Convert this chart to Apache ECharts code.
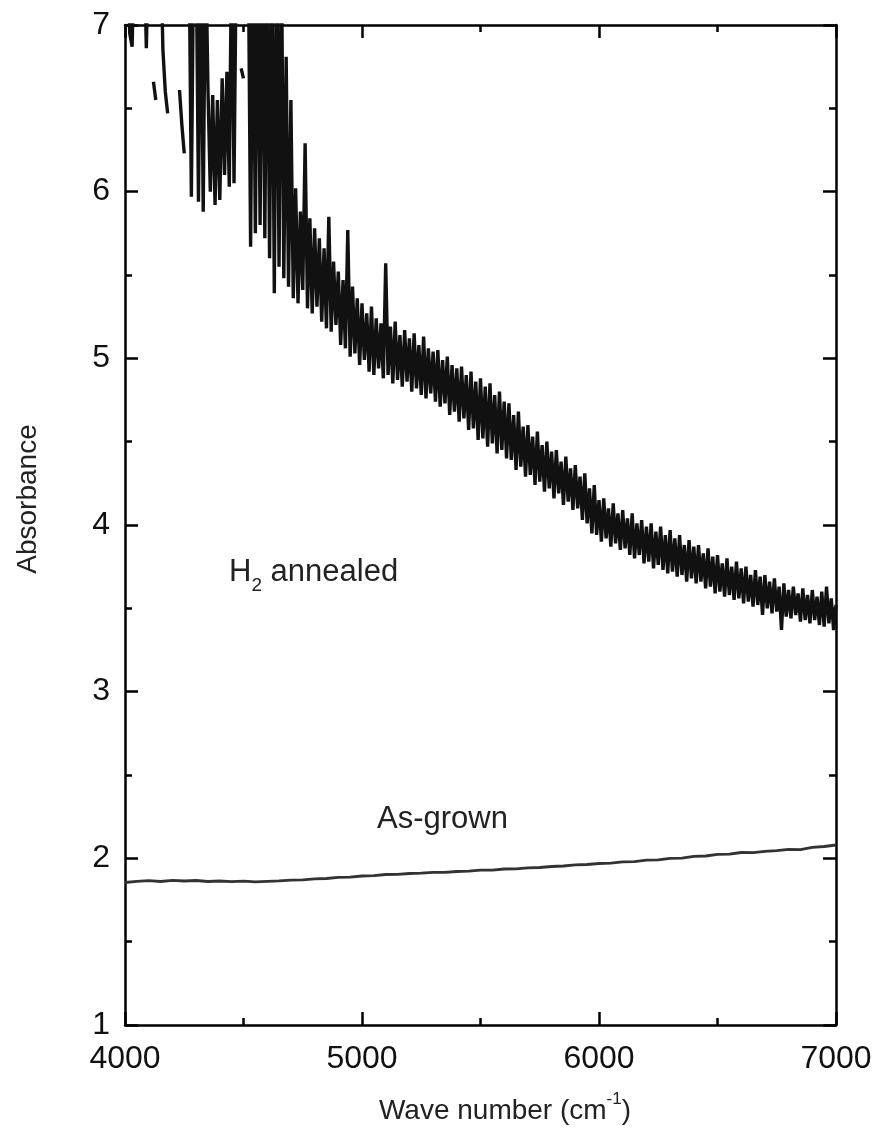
<!DOCTYPE html>
<html>
<head>
<meta charset="utf-8">
<script src="https://cdn.jsdelivr.net/npm/echarts@6/dist/echarts.min.js"></script>
<style>
  html, body { margin: 0; padding: 0; background: #fff; }
  #chart { width: 886px; height: 1135px; }
</style>
</head>
<body>
<div id="chart"></div>
<script>
// ---- Data ----
// H2 annealed spectrum: sampled every 10 cm^-1 from 4000 to 7000 cm^-1
// (values above 7 are off-scale, null = gap in the recorded trace)
const h2Start = 4000;
const h2Step = 10;
const h2Absorbance = [
  7.5, 7.5, 6.95, 6.87, 7.5, 7.5, 7.5, 7.5, 7.5, 6.86,
  7.5, null, 6.66, 6.55, null, 7.5, 6.85, 6.6, 6.47, null,
  null, null, null, 6.61, 6.4, 6.23, null, 7.5, 5.97, 7.5,
  7.5, 5.94, 7.5, 5.88, 7.5, 6.62, 6.0, 6.58, 5.92, 6.55,
  5.95, 6.68, 6.1, 6.72, 6.03, 7.5, 6.05, 7.5, null, 6.74,
  6.68, null, 7.5, 5.67, 7.5, 5.75, 7.5, 5.8, 7.5, 5.72,
  7.5, 5.6, 7.5, 5.39, 7.5, 5.55, 7.5, 5.48, 6.81, 5.43,
  6.55,
  5.36, 6.02, 5.33, 5.88, 5.41, 6.29, 5.30, 5.84, 5.27, 5.78,
  5.31, 5.72, 5.22, 5.66, 5.18, 5.85, 5.16, 5.58, 5.20, 5.52,
  5.08, 5.47, 5.06, 5.77, 5.01, 5.43, 5.03, 5.36, 4.96, 5.33,
  4.99, 5.27, 4.92, 5.31, 4.90, 5.24, 4.94, 5.21, 4.88, 5.57,
  4.90, 5.19, 4.85, 5.22, 4.87, 5.14, 4.83, 5.17, 4.86, 5.12,
  4.80, 5.15, 4.82, 5.08, 4.78, 5.13, 4.76, 5.06, 4.79, 5.04,
  4.74, 5.05, 4.71, 4.99, 4.73, 5.01, 4.66, 4.96, 4.68, 4.94,
  4.62, 4.95, 4.64, 4.90, 4.57, 4.92, 4.58, 4.86, 4.51, 4.88,
  4.52, 4.83, 4.47, 4.85, 4.49, 4.78, 4.43, 4.80, 4.45, 4.74,
  4.40, 4.73, 4.39, 4.66, 4.33, 4.68, 4.35, 4.59, 4.29, 4.60,
  4.30, 4.53, 4.24, 4.56, 4.26, 4.48, 4.20, 4.50, 4.22, 4.44,
  4.16, 4.45, 4.19, 4.38, 4.12, 4.41, 4.14, 4.34, 4.09, 4.36,
  4.10, 4.29, 4.03, 4.31, 4.01, 4.22, 3.95, 4.24, 3.94, 4.15,
  3.90, 4.16, 3.92, 4.10, 3.87, 4.13, 3.89, 4.07, 3.85, 4.09,
  3.86, 4.04, 3.82, 4.07, 3.80, 4.01, 3.82, 4.03, 3.77, 3.99,
  3.78, 4.01, 3.74, 3.96, 3.76, 3.99, 3.73, 3.94, 3.71, 3.97,
  3.72, 3.92, 3.69, 3.94, 3.70, 3.88, 3.66, 3.91, 3.68, 3.87,
  3.65, 3.88, 3.66, 3.83, 3.62, 3.86, 3.63, 3.81, 3.59, 3.82,
  3.60, 3.77, 3.57, 3.80, 3.58, 3.75, 3.55, 3.78, 3.56, 3.74,
  3.53, 3.75, 3.54, 3.70, 3.51, 3.73, 3.52, 3.69, 3.46, 3.70,
  3.50, 3.66, 3.47, 3.68, 3.48, 3.63, 3.37, 3.65, 3.45, 3.61,
  3.44, 3.63, 3.46, 3.59, 3.42, 3.62, 3.43, 3.58, 3.41, 3.61,
  3.43, 3.57, 3.40, 3.60, 3.39, 3.63, 3.41, 3.56, 3.37, 3.52
];

// As-grown spectrum: sampled every 50 cm^-1 from 4000 to 7000 cm^-1
const grownStart = 4000;
const grownStep = 50;
const grownAbsorbance = [
  1.855, 1.862, 1.866, 1.861, 1.868, 1.864, 1.867, 1.861, 1.864, 1.860,
  1.863, 1.859, 1.862, 1.865, 1.869, 1.871, 1.877, 1.879, 1.886, 1.887,
  1.894, 1.896, 1.903, 1.904, 1.909, 1.911, 1.916, 1.916, 1.921, 1.923,
  1.929, 1.929, 1.936, 1.937, 1.943, 1.945, 1.951, 1.954, 1.961, 1.963,
  1.969, 1.971, 1.979, 1.980, 1.989, 1.991, 2.000, 2.001, 2.012, 2.014,
  2.024, 2.025, 2.035, 2.034, 2.042, 2.046, 2.054, 2.052, 2.066, 2.071,
  2.080
];

// Axis ranges / ticks
const xMin = 4000, xMax = 7000, xInterval = 1000;
const yMin = 1, yMax = 7, yInterval = 1;

// Labels
const xTitle = ['Wave number (cm', '-1', ')'];
const yTitle = 'Absorbance';
const seriesNames = ['H2 annealed', 'As-grown'];

// ---- Build series data ----
const h2Data = h2Absorbance.map((v, i) => [h2Start + i * h2Step, v === null ? '-' : v]);
const grownData = grownAbsorbance.map((v, i) => [grownStart + i * grownStep, v]);

const FONT = '"Liberation Sans", Arial, Helvetica, sans-serif';
const axisLineStyle = { color: '#000', width: 2.5 };

function makeX(pos, showLabel) {
  return {
    type: 'value', position: pos, min: xMin, max: xMax, interval: xInterval,
    axisLine: { show: true, onZero: false, lineStyle: axisLineStyle },
    axisTick: { show: true, inside: true, length: 13, lineStyle: { color: '#000', width: 2.5 } },
    minorTick: { show: true, splitNumber: 2, length: 7, lineStyle: { color: '#000', width: 2.5 } },
    splitLine: { show: false }, minorSplitLine: { show: false },
    axisLabel: { show: showLabel, fontSize: 32, color: '#111', fontFamily: FONT, margin: 18,
                 formatter: v => String(v) }
  };
}
function makeY(pos, showLabel) {
  return {
    type: 'value', position: pos, min: yMin, max: yMax, interval: yInterval,
    axisLine: { show: true, onZero: false, lineStyle: axisLineStyle },
    axisTick: { show: true, inside: true, length: 13, lineStyle: { color: '#000', width: 2.5 } },
    minorTick: { show: true, splitNumber: 2, length: 7, lineStyle: { color: '#000', width: 2.5 } },
    splitLine: { show: false }, minorSplitLine: { show: false },
    axisLabel: { show: showLabel, fontSize: 32, color: '#111', fontFamily: FONT, margin: 15,
                 formatter: v => String(v) }
  };
}

const chart = echarts.init(document.getElementById('chart'), null, { renderer: 'canvas' });
chart.setOption({
  backgroundColor: '#fff',
  animation: false,
  grid: { left: 125, right: 50, top: 25, bottom: 110, containLabel: false },
  xAxis: [makeX('bottom', true), makeX('top', false)],
  yAxis: [makeY('left', true), makeY('right', false)],
  series: [
    {
      name: seriesNames[0], type: 'line', data: h2Data, showSymbol: false,
      connectNulls: false, clip: true,
      lineStyle: { color: '#111', width: 3.4, join: 'miter', miterLimit: 4 }
    },
    {
      name: seriesNames[1], type: 'line', data: grownData, showSymbol: false,
      clip: true,
      lineStyle: { color: '#333', width: 2.8 }
    }
  ],
  graphic: [
    {
      type: 'text', left: 229, top: 557,
      style: {
        text: '{a|H}{sub|2}{a| annealed}',
        rich: {
          a: { fontSize: 31, fontFamily: FONT, fill: '#222', lineHeight: 38, verticalAlign: 'top' },
          sub: { fontSize: 19, fontFamily: FONT, fill: '#222', lineHeight: 38, verticalAlign: 'bottom' }
        }
      }
    },
    {
      type: 'text', left: 377, top: 804,
      style: { text: seriesNames[1], fontSize: 31, fontFamily: FONT, fill: '#222' }
    },
    {
      type: 'text', x: 505, y: 1108,
      style: {
        text: '{a|' + xTitle[0] + '}{sup|' + xTitle[1] + '}{a|' + xTitle[2] + '}',
        align: 'center', verticalAlign: 'middle',
        rich: {
          a: { fontSize: 28, fontFamily: FONT, fill: '#222', lineHeight: 34, verticalAlign: 'bottom' },
          sup: { fontSize: 17, fontFamily: FONT, fill: '#222', lineHeight: 34, verticalAlign: 'top' }
        }
      }
    },
    {
      type: 'text', x: 28, y: 499, rotation: Math.PI / 2,
      style: {
        text: yTitle, fontSize: 28, fontFamily: FONT, fill: '#222',
        align: 'center', verticalAlign: 'middle'
      }
    }
  ]
});
</script>
</body>
</html>
